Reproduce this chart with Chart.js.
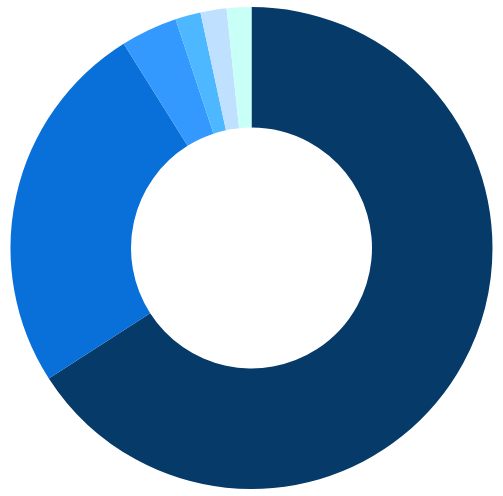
<!DOCTYPE html>
<html>
<head>
<meta charset="utf-8">
<script src="https://cdn.jsdelivr.net/npm/chart.js@4/dist/chart.umd.min.js"></script>
<style>
html,body{margin:0;padding:0;background:#fff;}
#wrap{width:503px;height:496px;}
</style>
</head>
<body>
<div id="wrap"><canvas id="c"></canvas></div>
<script>
const categories = ["A", "B", "C", "D", "E", "F"];
const values = [65.9, 25.2, 3.8, 1.7, 1.75, 1.65];
const colors = ["#063a69", "#0870d8", "#3399ff", "#4db8ff", "#bfe1ff", "#c8fff7"];

new Chart(document.getElementById('c'), {
  type: 'doughnut',
  data: {
    labels: categories,
    datasets: [{
      data: values,
      backgroundColor: colors,
      borderWidth: 0,
      hoverOffset: 0
    }]
  },
  options: {
    responsive: true,
    maintainAspectRatio: false,
    animation: false,
    cutout: '50%',
    layout: { padding: 7 },
    plugins: {
      legend: { display: false },
      tooltip: { enabled: false }
    }
  }
});
</script>
</body>
</html>
